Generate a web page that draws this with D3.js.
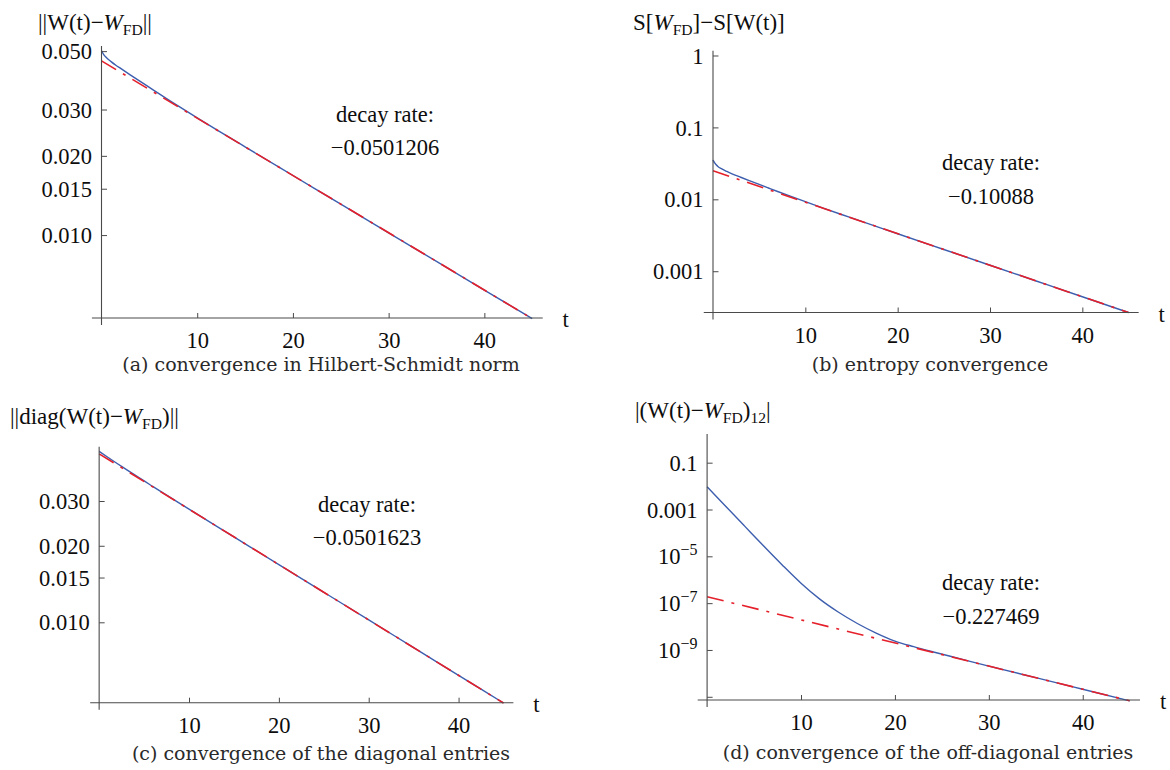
<!DOCTYPE html>
<html>
<head>
<meta charset="utf-8">
<script src="https://cdn.jsdelivr.net/npm/d3@7"></script>
<style>
  body { margin: 0; background: #fff; }
  svg text { font-family: "Liberation Serif", "Times New Roman", serif; fill: #0d0d0d; }
  svg text.caption { font-family: "DejaVu Serif", serif; fill: #2a2a2a; }
</style>
</head>
<body>
<svg id="fig" width="1170" height="770"></svg>
<script>
// ---- shared axis values ----
const xMajorTicks = [10, 20, 30, 40];
const xMinorTicks = [2, 4, 6, 8, 12, 14, 16, 18, 22, 24, 26, 28, 32, 34, 36, 38, 42, 44];

// ---- (a) Hilbert-Schmidt norm ----
const timesA = [0, 0.25, 0.5, 1, 1.5, 2, 3, 4, 5, 6, 7, 8, 10, 12, 15, 20, 25, 30, 35, 40, 45];
const normA  = [0.0502, 0.04841, 0.04728, 0.04562, 0.04419, 0.04297, 0.04064, 0.03846, 0.03641, 0.03446,
                0.03264, 0.03096, 0.02789, 0.02518, 0.02164, 0.01684, 0.01311, 0.01020, 0.007942, 0.006181, 0.004811];
const fitStartA = 0.0459;
const rateA = -0.0501206;
const yTicksA = [0.010, 0.015, 0.020, 0.030, 0.050];
const yTickTextA = ["0.010", "0.015", "0.020", "0.030", "0.050"];
const yMinorA = [0.011, 0.012, 0.013, 0.014, 0.016, 0.017, 0.018, 0.019, 0.025, 0.04];

// ---- (b) entropy ----
const timesB = [0, 0.2, 0.5, 1, 1.5, 2, 3, 4, 5, 6, 7, 8, 10, 12, 14, 15, 20, 25, 30, 35, 40, 45];
const entropyB = [0.0352, 0.03185, 0.02888, 0.02622, 0.02439, 0.02284, 0.02026, 0.01804, 0.01609, 0.01437,
                  0.01284, 0.01150, 0.009263, 0.007496, 0.006096, 0.005506, 0.003324, 0.002007, 0.001212,
                  0.000732, 0.000442, 0.000267];
const fitStartB = 0.025;
const rateB = -0.10088;
const yTicksB = [0.001, 0.01, 0.1, 1];
const yTickTextB = ["0.001", "0.01", "0.1", "1"];

// ---- (c) diagonal entries ----
const timesC = [0, 1, 2, 3, 4, 6, 8, 10, 15, 20, 25, 30, 35, 40, 45];
const diagC = [0.0470, 0.04449, 0.04215, 0.03997, 0.03790, 0.03418, 0.03086, 0.02786, 0.02168,
               0.01687, 0.01313, 0.01022, 0.007949, 0.006186, 0.004814];
const fitStartC = 0.0460;
const rateC = -0.0501623;
const yTicksC = [0.010, 0.015, 0.020, 0.030];
const yTickTextC = ["0.010", "0.015", "0.020", "0.030"];
const yMinorC = [0.011, 0.012, 0.013, 0.014, 0.016, 0.017, 0.018, 0.019, 0.025, 0.04];

// ---- (d) off-diagonal entries ----
const timesD = [0, 2, 4, 6, 8, 10, 12, 14, 16, 18, 20, 22, 24, 26, 28, 30, 35, 40, 45];
const offDiagD = [9.33e-3, 1.349e-3, 1.95e-4, 2.818e-5, 4.266e-6, 7.08e-7, 1.479e-7, 4.07e-8, 1.349e-8,
                  5.25e-9, 2.40e-9, 1.38e-9, 8.41e-10, 5.25e-10, 3.27e-10, 2.05e-10, 6.55e-11, 2.10e-11, 6.73e-12];
const fitStartD = 1.88e-7;
const rateD = -0.227469;
const yTicksD = [0.1, 0.001, 1e-5, 1e-7, 1e-9, 1e-11];
const yTickTextD = ["0.1", "0.001", "10^−5", "10^−7", "10^−9", ""];

// log minor ticks k·10^n inside a domain
function logMinor(lo, hi, skip) {
  const out = [];
  for (let e = Math.floor(Math.log10(lo)); e <= Math.ceil(Math.log10(hi)); e++) {
    for (let k = 1; k <= 9; k++) {
      const v = k * Math.pow(10, e);
      if (v >= lo && v <= hi && !skip.some(s => Math.abs(s - v) / v < 1e-6)) out.push(v);
    }
  }
  return out;
}

const panels = [
  {
    times: timesA, values: normA, fitStart: fitStartA, rate: rateA,
    xRange: [101.5, 532.2], yDomain: [0.00484, 0.0523], yRange: [318, 46],
    yTicks: yTicksA, yTickText: yTickTextA, yMinor: yMinorA, yMid: [],
    title: [["||W(t)−", ""], ["W", "it"], ["FD", "sub"], ["||", ""]], titlePos: [38, 29.5],
    rateText: "−0.0501206", ratePos: [385, 121.5],
    caption: "(a) convergence in Hilbert-Schmidt norm", captionPos: [321, 371]
  },
  {
    times: timesB, values: entropyB, fitStart: fitStartB, rate: rateB,
    xRange: [713, 1128.5], yDomain: [2.667e-4, 1.166], yRange: [312.5, 50.7],
    yTicks: yTicksB, yTickText: yTickTextB, yMinor: logMinor(2.667e-4, 1.166, yTicksB), yMid: [],
    title: [["S[", ""], ["W", "it"], ["FD", "sub"], ["]−S[W(t)]", ""]], titlePos: [633, 29.5],
    rateText: "−0.10088", ratePos: [991, 170],
    caption: "(b) entropy convergence", captionPos: [930, 371]
  },
  {
    times: timesC, values: diagC, fitStart: fitStartC, rate: rateC,
    xRange: [99.15, 503.5], yDomain: [0.004828, 0.04906], yRange: [702.7, 446.7],
    yTicks: yTicksC, yTickText: yTickTextC, yMinor: yMinorC, yMid: [],
    title: [["||diag(W(t)−", ""], ["W", "it"], ["FD", "sub"], [")||", ""]], titlePos: [10, 424],
    rateText: "−0.0501623", ratePos: [367, 511.7],
    caption: "(c) convergence of the diagonal entries", captionPos: [321, 760]
  },
  {
    times: timesD, values: offDiagD, fitStart: fitStartD, rate: rateD,
    xRange: [707.1, 1129.7], yDomain: [7.29e-12, 1.68], yRange: [700, 434],
    yTicks: yTicksD, yTickText: yTickTextD,
    yMinor: logMinor(7.29e-12, 1.68, [1, 1e-2, 1e-4, 1e-6, 1e-8, 1e-10].concat(yTicksD)),
    yMid: [1, 1e-2, 1e-4, 1e-6, 1e-8, 1e-10],
    title: [["|(W(t)−", ""], ["W", "it"], ["FD", "sub"], [")", ""], ["12", "sub"], ["|", ""]], titlePos: [635, 418],
    rateText: "−0.227469", ratePos: [991, 590],
    caption: "(d) convergence of the off-diagonal entries", captionPos: [928, 759]
  }
];

const svg = d3.select("#fig");
const AXIS = "#4a4a4a";
const BLUE = "#3d5eae";
const RED = "#e5202b";

function richText(sel, parts, baseSize) {
  let shifted = 0;
  parts.forEach(([txt, kind]) => {
    const ts = sel.append("tspan").text(txt);
    if (kind === "it") ts.attr("font-style", "italic");
    if (kind === "sub") {
      ts.attr("font-size", baseSize * 0.68).attr("dy", 5 - shifted);
      shifted = 5;
    } else if (shifted) {
      ts.attr("dy", -shifted);
      shifted = 0;
    }
  });
}

panels.forEach(p => {
  const g = svg.append("g");
  const x = d3.scaleLinear().domain([0, 45]).range(p.xRange);
  const y = d3.scaleLog().domain(p.yDomain).range(p.yRange);
  const axisY = p.yRange[0];
  const axisX = x(0);

  // blue numerical curve, then dot-dashed exponential fit on top
  const line = d3.line().x(d => x(d[0])).y(d => y(d[1])).curve(d3.curveMonotoneX);
  g.append("path")
    .datum(p.times.map((t, i) => [t, p.values[i]]))
    .attr("d", line).attr("fill", "none").attr("stroke", BLUE).attr("stroke-width", 1.4);

  const fitPts = [0, 45].map(t => [t, p.fitStart * Math.exp(p.rate * t)]);
  g.append("path")
    .datum(fitPts)
    .attr("d", d3.line().x(d => x(d[0])).y(d => y(d[1])))
    .attr("fill", "none").attr("stroke", RED).attr("stroke-width", 1.6)
    .attr("stroke-dasharray", "17,8,3,8");

  // x axis
  const xAx = g.append("g").attr("transform", `translate(0,${axisY})`);
  xAx.call(d3.axisBottom(x).tickValues(xMinorTicks).tickSize(-3).tickFormat(""));
  xAx.call(d3.axisBottom(x).tickValues(xMajorTicks).tickSize(-5));
  xAx.selectAll(".domain").remove();
  xAx.selectAll("line").attr("stroke", AXIS);
  xAx.selectAll("text").attr("y", 30).attr("dy", null)
    .attr("font-size", 22.5).attr("font-family", "Liberation Serif").attr("fill", "#0d0d0d");
  g.append("line")
    .attr("x1", x(-1)).attr("x2", x(46.1)).attr("y1", axisY).attr("y2", axisY)
    .attr("stroke", AXIS).attr("stroke-width", 1.1);
  g.append("text").attr("x", x(46.1) + 23).attr("y", axisY + 9)
    .attr("text-anchor", "middle").attr("font-size", 22.5).text("t");

  // y axis
  const yAx = g.append("g").attr("transform", `translate(${axisX},0)`);
  yAx.call(d3.axisLeft(y).tickValues(p.yMinor).tickSize(-2.5).tickFormat(""));
  if (p.yMid.length) yAx.call(d3.axisLeft(y).tickValues(p.yMid).tickSize(-3.5).tickFormat(""));
  yAx.call(d3.axisLeft(y).tickValues(p.yTicks).tickSize(-5.5)
    .tickFormat((d, i) => p.yTickText[i]));
  yAx.selectAll(".domain").remove();
  yAx.selectAll("line").attr("stroke", AXIS);
  yAx.selectAll("text").each(function () {
    const t = d3.select(this);
    const label = t.text();
    t.attr("x", -9.5).attr("dy", "0.34em")
      .attr("font-size", 22.5).attr("font-family", "Liberation Serif").attr("fill", "#0d0d0d");
    if (label.includes("^")) {
      const [base, exp] = label.split("^");
      t.text(null);
      t.append("tspan").text(base);
      t.append("tspan").attr("font-size", 16).attr("dy", -9).text(exp);
    }
  });
  g.append("line")
    .attr("x1", axisX).attr("x2", axisX)
    .attr("y1", p.yRange[1]).attr("y2", axisY + 7)
    .attr("stroke", AXIS).attr("stroke-width", 1.1);

  // axis title
  const title = g.append("text").attr("x", p.titlePos[0]).attr("y", p.titlePos[1]).attr("font-size", 23);
  richText(title, p.title, 23);

  // fitted decay rate annotation
  g.append("text").attr("x", p.ratePos[0]).attr("y", p.ratePos[1])
    .attr("text-anchor", "middle").attr("font-size", 22.5).text("decay rate:");
  g.append("text").attr("x", p.ratePos[0]).attr("y", p.ratePos[1] + 33.5)
    .attr("text-anchor", "middle").attr("font-size", 22.5).text(p.rateText);

  // caption
  g.append("text").attr("class", "caption")
    .attr("x", p.captionPos[0]).attr("y", p.captionPos[1])
    .attr("text-anchor", "middle").attr("font-size", 19).text(p.caption);
});
</script>
</body>
</html>
